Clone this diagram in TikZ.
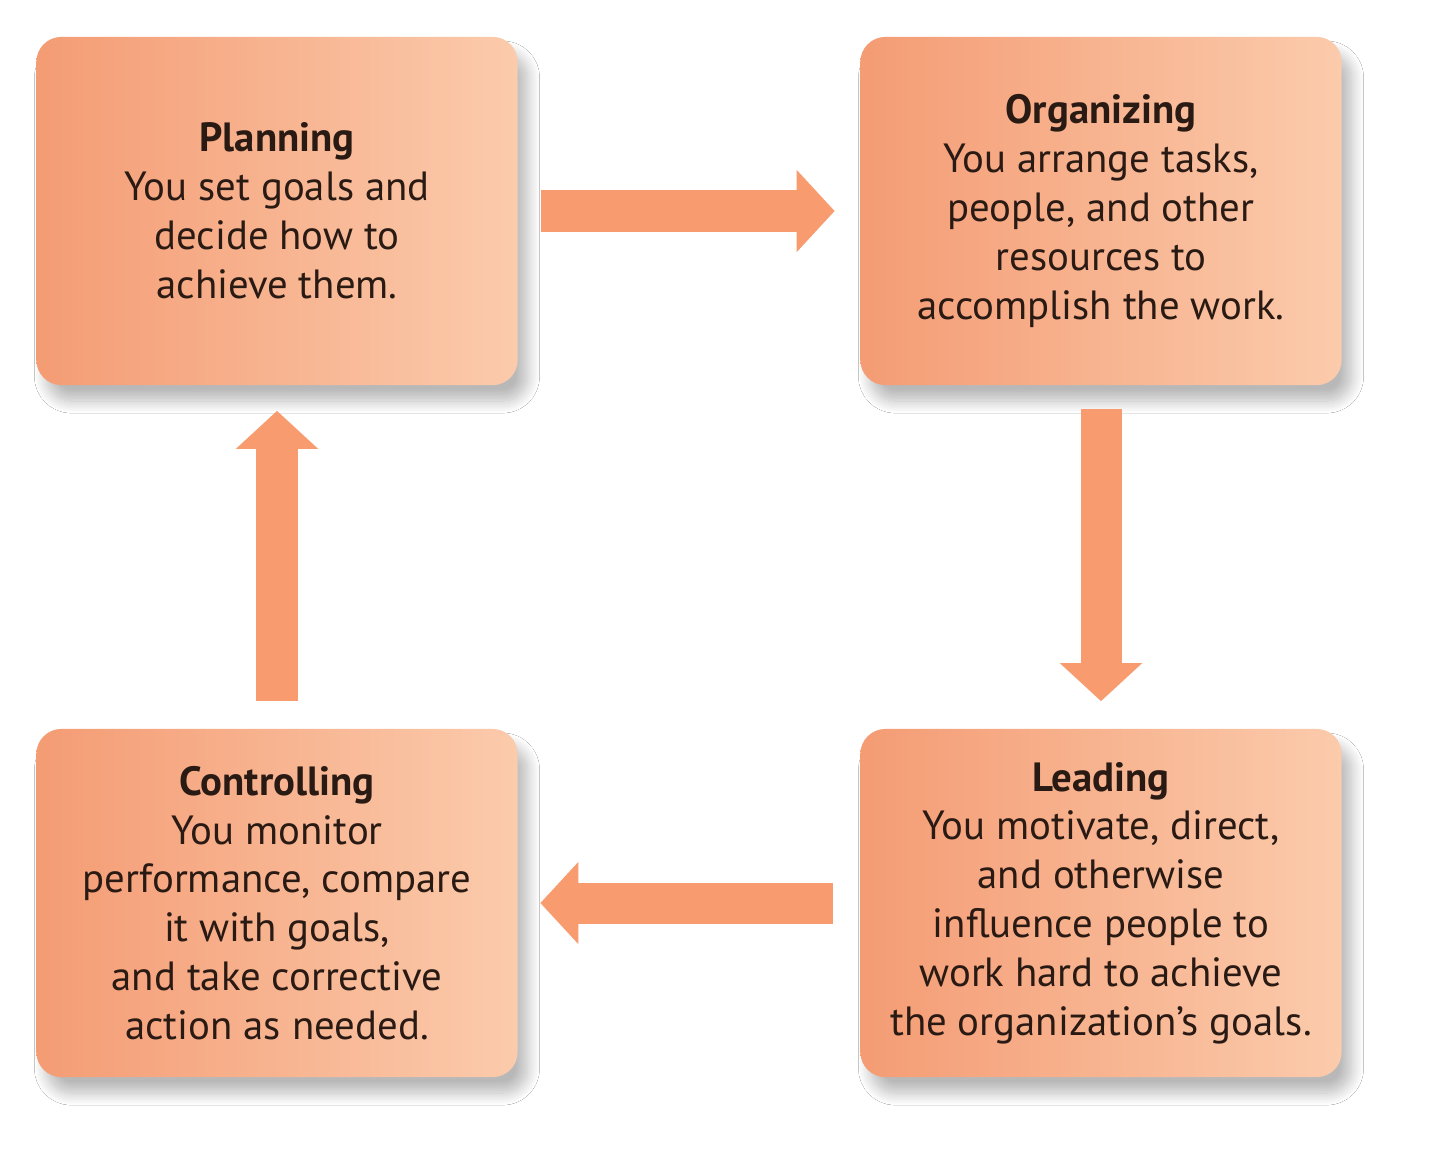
\documentclass[tikz,border=0pt]{standalone}
\usepackage{fontspec}
\setmainfont{PT Sans}
\usepackage{tikz}
\usetikzlibrary{positioning}
\usetikzlibrary{arrows.meta}
\usetikzlibrary{shadows.blur}

\definecolor{boxL}{HTML}{F49C74}
\definecolor{boxR}{HTML}{FBCBAC}
\definecolor{arrowfill}{HTML}{F89B6F}
\definecolor{textdark}{HTML}{2A1A14}

\tikzset{
    stagebox/.style={rounded corners=0.25cm, minimum width=4.81cm, minimum height=3.48cm,
        left color=boxL, right color=boxR, align=center, text=textdark,
        font=\fontsize{11.6}{13.9}\selectfont,
        blur shadow={shadow xshift=0.1cm, shadow yshift=-0.16cm, shadow blur radius=0.12cm,
            shadow blur steps=16, shadow opacity=28}},
    blockarrow/.style={draw=arrowfill, line width=0.41cm,
        -{Triangle[width=0.8cm, length=0.38cm, fill=arrowfill]}}
}

\begin{document}
\begin{tikzpicture}[x=0.01cm, y=-0.01cm]
                    \useasboundingbox[fill=white] (0,0) rectangle (1440,1175);
                    \node[stagebox] (plan) at (277,211) {\textbf{Planning}\\You set goals and\\decide how to\\achieve them.};
                    \node[stagebox] (org) at (1101,211) {\textbf{Organizing}\\You arrange tasks,\\people, and other\\resources to\\accomplish the work.};
                    \node[stagebox] (lead) at (1101,903) {\textbf{Leading}\\You motivate, direct,\\and otherwise\\influence people to\\work hard to achieve\\the organization’s goals.};
                    \node[stagebox] (ctrl) at (277,903) {\textbf{Controlling}\\You monitor\\performance, compare\\it with goals,\\and take corrective\\action as needed.};
                    \draw[blockarrow, shorten <=0.23cm, shorten >=0.25cm] (plan.east) -- (org.west);   %plan to organize
                    \draw[blockarrow, shorten <=0.23cm, shorten >=0.27cm] (org.south) -- (lead.north);  %organize to lead
                    \draw[blockarrow, shorten <=0.27cm, shorten >=0.22cm] (lead.west) -- (ctrl.east);   %lead to control
                    \draw[blockarrow, shorten <=0.27cm, shorten >=0.25cm] (ctrl.north) -- (plan.south); %control to plan
                \end{tikzpicture}
\end{document}
